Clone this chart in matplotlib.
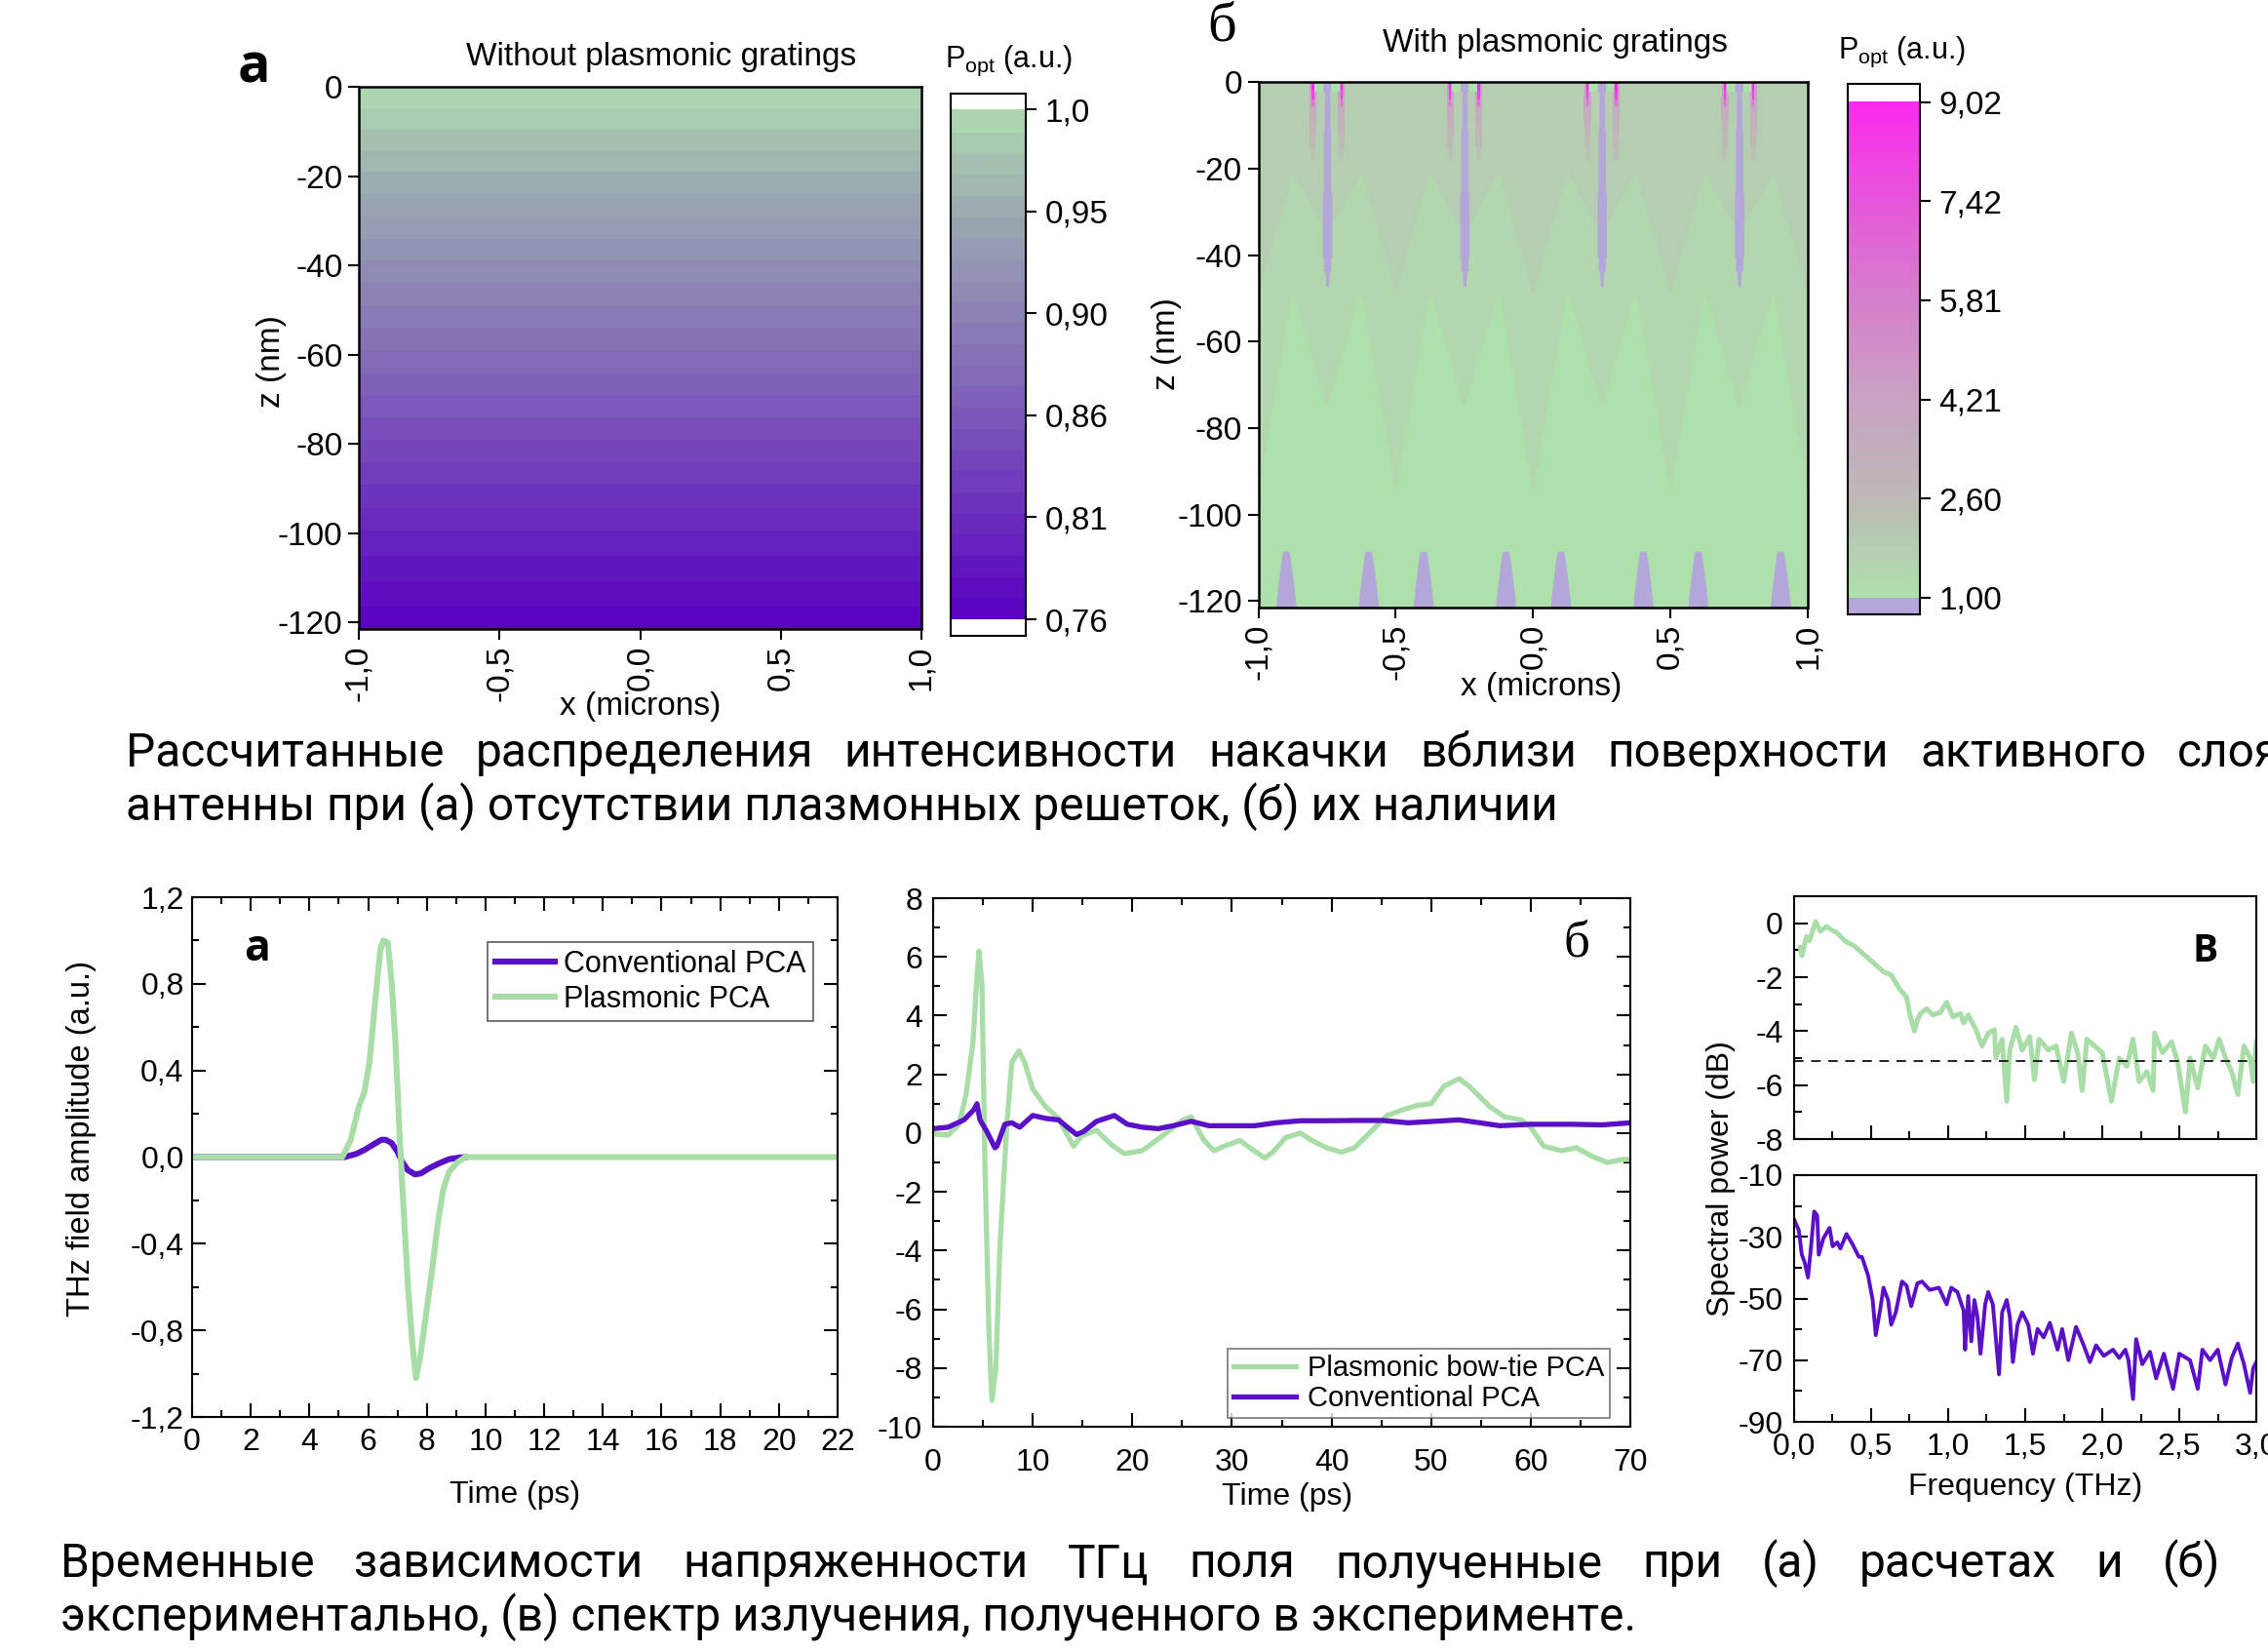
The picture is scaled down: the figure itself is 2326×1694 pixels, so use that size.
import numpy as np
import matplotlib
matplotlib.use('Agg')
import matplotlib.pyplot as plt
from matplotlib.colors import LinearSegmentedColormap, ListedColormap, BoundaryNorm
from matplotlib.ticker import FixedLocator, MultipleLocator
from matplotlib.lines import Line2D

plt.rcParams['font.family'] = ['Liberation Sans', 'DejaVu Sans']
plt.rcParams['axes.unicode_minus'] = False
plt.rcParams['mathtext.fontset'] = 'custom'
plt.rcParams['mathtext.rm'] = 'Liberation Sans'
plt.rcParams['mathtext.it'] = 'Liberation Sans:italic'

# ------------------------------------------------------------------ data
# (a) top: optical power vs depth, no gratings
za_depth = [0, -20, -40, -60, -80, -100, -121.5]
pa_power = [1.0, 0.958, 0.918, 0.878, 0.838, 0.799, 0.761]
cbar_a_ticks = [0.76, 0.808, 0.856, 0.904, 0.952, 1.0]
cbar_a_labels = ['0,76', '0,81', '0,86', '0,90', '0,95', '1,0']

# (b) top: optical power with gratings (coarse contour grid)
xb_nodes = [-1.0, -0.875, -0.75, -0.625, -0.5, -0.375, -0.25, -0.125, 0.0,
            0.125, 0.25, 0.375, 0.5, 0.625, 0.75, 0.875, 1.0]
zb_nodes = [0, -20, -48, -93, -121.5]
pb_grid = [
    [2.0] * 17,
    [2.0, 1.81, 2.0, 1.81, 2.0, 1.81, 2.0, 1.81, 2.0, 1.81, 2.0, 1.81, 2.0, 1.81, 2.0, 1.81, 2.0],
    [1.81, 1.40, 1.63, 1.40, 1.81, 1.40, 1.63, 1.40, 1.81, 1.40, 1.63, 1.40, 1.81, 1.40, 1.63, 1.40, 1.81],
    [1.41, 1.10, 1.25, 1.10, 1.41, 1.10, 1.25, 1.10, 1.41, 1.10, 1.25, 1.10, 1.41, 1.10, 1.25, 1.10, 1.41],
    [1.20, 1.05, 1.25, 1.05, 1.20, 1.05, 1.25, 1.05, 1.20, 1.05, 1.25, 1.05, 1.20, 1.05, 1.25, 1.05, 1.20],
]
grating_x = [-0.75, -0.25, 0.25, 0.75]
line_z = [0, -2.2, -2.2, -4, -4, -11, -11, -25.5, -25.5, -40.5, -40.5, -43.7, -43.7, -47.2]
line_hw = [0.015, 0.015, 0.008, 0.008, 0.010, 0.010, 0.013, 0.013, 0.017, 0.017, 0.013, 0.013, 0.008, 0.005]
hot_offset = 0.052
glow_z = [0, -3, -6, -9, -12, -15, -18]
glow_val = [4.6, 4.0, 3.4, 3.0, 2.6, 2.3]
glow_hw = [0.012, 0.013, 0.013, 0.012, 0.011, 0.009]
hot_z = [0, -2, -4, -5.5]
hot_val = [9.0, 8.0, 6.0]
bump_x = [-0.9, -0.6, -0.4, -0.1, 0.1, 0.4, 0.6, 0.9]
bump_z = [-121.5, -117, -114, -111, -108.5]
bump_hw = [0.037, 0.030, 0.024, 0.018, 0.012]
cbar_b_ticks = [1.0, 2.604, 4.208, 5.812, 7.416, 9.02]
cbar_b_labels = ['1,00', '2,60', '4,21', '5,81', '7,42', '9,02']

# bottom (a): calculated THz pulses
t_plas_a = [0, 5.12, 5.4, 5.68, 5.87, 6.05, 6.24, 6.42, 6.52, 6.67, 6.8, 6.93, 7.08, 7.2,
            7.36, 7.5, 7.63, 7.78, 8.0, 8.19, 8.38, 8.56, 8.75, 9.03, 9.31, 22]
e_plas_a = [0, 0, 0.077, 0.23, 0.30, 0.44, 0.72, 0.96, 1.0, 0.99, 0.81, 0.53, 0.08, -0.22,
            -0.6, -0.85, -1.02, -0.92, -0.70, -0.51, -0.3, -0.15, -0.07, -0.026, 0, 0]
t_conv_a = [0, 5.2, 5.6, 5.9, 6.2, 6.45, 6.6, 6.8, 7.0, 7.15, 7.35, 7.6, 7.8, 8.1, 8.4, 8.75, 9.1, 9.4]
e_conv_a = [0, 0, 0.015, 0.035, 0.06, 0.08, 0.08, 0.065, 0.025, -0.02, -0.06, -0.08, -0.075,
            -0.05, -0.03, -0.01, -0.002, 0]

# bottom (б): measured THz pulses
t_plas_b = [0, 1.5, 2.6, 3.3, 4.0, 4.4, 4.6, 4.9, 5.2, 5.6, 5.9, 6.3, 6.7, 7.4, 7.9, 8.6, 9.2,
            10.0, 11.3, 12.6, 13.3, 14.1, 14.9, 16.4, 17.9, 19.2, 21.0, 23.0, 25.1, 25.9, 27.2,
            28.2, 29.2, 30.8, 31.8, 33.3, 34.1, 35.4, 36.9, 38.0, 39.5, 41.0, 42.3, 44.1, 45.6,
            47.2, 48.7, 50.0, 51.3, 52.8, 53.8, 55.9, 57.4, 59.0, 60.0, 61.3, 63.1, 64.6, 66.2,
            67.7, 69.2, 70.0]
e_plas_b = [-0.03, -0.07, 0.3, 1.3, 3.1, 5.3, 6.2, 5.1, -1.1, -6.7, -9.1, -8.0, -3.9, 0.3, 2.4,
            2.8, 2.4, 1.5, 0.9, 0.5, 0.05, -0.45, -0.1, 0.1, -0.4, -0.7, -0.6, -0.1, 0.45, 0.55,
            -0.25, -0.6, -0.45, -0.25, -0.5, -0.85, -0.65, -0.15, 0.0, -0.25, -0.5, -0.65, -0.5,
            0.1, 0.6, 0.8, 0.95, 1.0, 1.6, 1.85, 1.6, 0.9, 0.55, 0.45, 0.2, -0.45, -0.6, -0.5,
            -0.8, -1.0, -0.9, -0.9]
t_conv_b = [0, 1.5, 3.1, 4.1, 4.4, 4.7, 5.4, 6.2, 6.4, 7.2, 7.9, 8.7, 10.0, 11.3, 12.6, 13.3,
            14.4, 15.1, 16.4, 18.2, 19.5, 21.0, 22.6, 24.1, 25.9, 27.7, 29.8, 32.3, 34.4, 36.9,
            39.5, 42.6, 45.1, 47.7, 50.3, 52.8, 54.9, 56.9, 60.0, 64.1, 67.2, 70.0]
e_conv_b = [0.15, 0.2, 0.45, 0.8, 1.0, 0.45, 0.05, -0.5, -0.45, 0.3, 0.35, 0.2, 0.6, 0.5, 0.45,
            0.25, -0.05, 0.05, 0.4, 0.6, 0.3, 0.2, 0.15, 0.25, 0.4, 0.25, 0.25, 0.25, 0.35, 0.42,
            0.42, 0.43, 0.43, 0.35, 0.4, 0.45, 0.35, 0.25, 0.3, 0.3, 0.28, 0.35]

# bottom (в): spectra
f_plas = [0.04, 0.05, 0.08, 0.10, 0.14, 0.17, 0.21, 0.24, 0.28, 0.33, 0.39, 0.45, 0.51, 0.58,
          0.63, 0.68, 0.73, 0.75, 0.78, 0.80, 0.82, 0.86, 0.90, 0.95, 0.99, 1.03, 1.08, 1.10,
          1.13, 1.18, 1.22, 1.26, 1.30, 1.31, 1.35, 1.38, 1.40, 1.44, 1.48, 1.53, 1.56, 1.59,
          1.65, 1.70, 1.75, 1.80, 1.84, 1.87, 1.90, 1.95, 2.00, 2.06, 2.11, 2.16, 2.20, 2.24,
          2.29, 2.33, 2.34, 2.39, 2.45, 2.49, 2.54, 2.57, 2.62, 2.67, 2.72, 2.76, 2.80, 2.84,
          2.88, 2.92, 2.96, 2.98, 3.00]
s_plas = [-0.9, -1.2, -0.5, -0.65, 0.06, -0.3, -0.12, -0.24, -0.36, -0.66, -0.84, -1.14, -1.44,
          -1.8, -1.92, -2.4, -2.75, -3.35, -4.0, -3.6, -3.35, -3.17, -3.4, -3.3, -2.93, -3.47,
          -3.35, -3.7, -3.4, -3.95, -4.55, -4.07, -3.95, -5.0, -4.3, -6.6, -4.7, -3.86, -4.7,
          -4.2, -5.8, -4.3, -4.7, -4.55, -5.87, -4.07, -4.8, -6.2, -4.3, -4.55, -4.8, -6.6, -5.0,
          -5.3, -4.3, -5.87, -5.5, -6.2, -4.07, -4.8, -4.4, -5.15, -7.0, -5.0, -6.1, -4.55, -5.0,
          -4.3, -5.0, -5.5, -6.35, -4.55, -5.0, -5.87, -4.4]
noise_floor_db = -5.1
f_conv = [0.0, 0.03, 0.05, 0.07, 0.09, 0.11, 0.13, 0.15, 0.16, 0.19, 0.23, 0.25, 0.28, 0.30,
          0.34, 0.38, 0.42, 0.44, 0.48, 0.51, 0.53, 0.56, 0.58, 0.61, 0.63, 0.66, 0.70, 0.73,
          0.76, 0.80, 0.83, 0.88, 0.94, 0.99, 1.02, 1.06, 1.10, 1.11, 1.13, 1.15, 1.17, 1.19,
          1.21, 1.24, 1.26, 1.29, 1.33, 1.35, 1.38, 1.40, 1.42, 1.45, 1.48, 1.52, 1.55, 1.58,
          1.62, 1.66, 1.71, 1.74, 1.78, 1.83, 1.88, 1.92, 1.96, 2.01, 2.07, 2.11, 2.15, 2.17,
          2.20, 2.22, 2.26, 2.31, 2.35, 2.40, 2.46, 2.50, 2.57, 2.62, 2.65, 2.70, 2.75, 2.80,
          2.84, 2.88, 2.92, 2.96, 2.98, 3.00]
s_conv = [-24.4, -27.8, -35.8, -38.5, -43.2, -33.1, -21.8, -23.1, -35.8, -30.5, -27.1, -33.1,
          -31.8, -33.8, -29.1, -32.5, -36.5, -36.5, -42.5, -50.5, -61.9, -53.2, -46.5, -50.5,
          -58.5, -54.5, -44.5, -45.8, -52.5, -45.1, -44.5, -47.2, -46.5, -51.9, -46.5, -47.9,
          -53.9, -66.6, -49.2, -63.9, -50.5, -55.9, -67.9, -51.9, -47.9, -51.9, -74.6, -54.5,
          -50.5, -55.9, -70.6, -58.5, -54.5, -58.5, -67.9, -59.9, -62.6, -57.9, -66.6, -59.9,
          -70.0, -59.2, -65.2, -70.6, -65.2, -68.6, -66.6, -69.3, -66.6, -70.0, -82.6, -63.2,
          -71.3, -67.3, -75.9, -67.9, -79.3, -67.9, -70.0, -79.3, -66.6, -70.0, -66.6, -77.9,
          -69.3, -64.6, -71.3, -80.6, -72.6, -70.6]

caption1_line1 = ["Рассчитанные", "распределения", "интенсивности", "накачки", "вблизи",
                  "поверхности", "активного", "слоя"]
caption1_line2 = "антенны при (а) отсутствии плазмонных решеток, (б) их наличии"
caption2_line1 = ["Временные", "зависимости", "напряженности", "ТГц", "поля", "полученные",
                  "при", "(а)", "расчетах", "и", "(б)"]
caption2_line2 = "экспериментально, (в) спектр излучения, полученного в эксперименте."

# ------------------------------------------------------------------ style
GREEN = '#a9dda8'
PURPLE = '#5a10c6'
LAV = '#b3a6d8'
W, H = 2326, 1694
fig = plt.figure(figsize=(W / 100, H / 100), dpi=100)


def box(l, t, r, b):
    return [l / W, 1 - b / H, (r - l) / W, (b - t) / H]


def T(x, y, s, **kw):
    return fig.text(x / W, 1 - y / H, s, **kw)


def comma(v, nd):
    return (f'{v:.{nd}f}').replace('.', ',')


TOP_FS = 24
BOT_FS = 23

# ------------------------------------------------------------------ top (a)
axA = fig.add_axes(box(368, 89, 945, 645))
cmap_a = LinearSegmentedColormap.from_list(
    'a', [(0, '#5a05c0'), (0.417, '#7f62b8'), (0.79, '#9cacb0'), (1, '#b0e0b0')])
lev_a = np.linspace(0.76, 1.0, 25)
cols_a = [cmap_a((v - 0.76) / 0.24) for v in lev_a[:-1]]
Pa = np.tile(np.array(pa_power)[:, None], (1, 2))
axA.contourf([-1.0, 1.0], za_depth, Pa, levels=lev_a, colors=cols_a, extend='both')
axA.set_xlim(-1, 1)
axA.set_ylim(-121.5, 0)

# ------------------------------------------------------------------ top (b)
axB = fig.add_axes(box(1290.6, 84.5, 1854, 623))
cb_colors = ['#aee0ac', '#bdbab6', '#c9a2c4', '#d680cc', '#e657da', '#fb2bee']
cmap_b = LinearSegmentedColormap.from_list('b', list(zip(np.linspace(0, 1, 6), cb_colors)))
norm_b = plt.Normalize(1.0, 9.02)
lev_b = np.linspace(1.0, 9.02, 21)
cols_b = [cmap_b(norm_b(v)) for v in lev_b[:-1]]
axB.contourf(xb_nodes, zb_nodes, pb_grid, levels=lev_b, colors=cols_b)
for gx in grating_x:
    lz = np.array(line_z)
    hw = np.array(line_hw)
    axB.fill_betweenx(lz, gx - hw, gx + hw, color=LAV, lw=0, zorder=3)
    for s in (-1, 1):
        xm = gx + s * hot_offset
        for i in range(len(glow_val)):
            axB.fill_betweenx([glow_z[i], glow_z[i + 1]], xm - glow_hw[i], xm + glow_hw[i],
                              color=cmap_b(norm_b(glow_val[i])), lw=0, zorder=2)
        for i in range(len(hot_val)):
            axB.fill_betweenx([hot_z[i], hot_z[i + 1]], xm - 0.004, xm + 0.004,
                              color=cmap_b(norm_b(hot_val[i])), lw=0, zorder=4)
        axB.fill_betweenx([0, -2.2], gx + s * 0.015, gx + s * 0.045, color=cols_b[0], lw=0, zorder=3)
for bx in bump_x:
    axB.fill_betweenx(bump_z, bx - np.array(bump_hw), bx + np.array(bump_hw), color=LAV, lw=0, zorder=3)
axB.set_xlim(-1, 1)
axB.set_ylim(-121.5, 0)

for ax in (axA, axB):
    ax.set_yticks([0, -20, -40, -60, -80, -100, -120])
    ax.set_yticklabels(['0', '-20', '-40', '-60', '-80', '-100', '-120'])
    ax.set_xticks([-1, -0.5, 0, 0.5, 1])
    ax.set_xticklabels(['-1,0', '-0,5', '0,0', '0,5', '1,0'], rotation=90)
    ax.tick_params(direction='out', length=8, width=1.5, labelsize=TOP_FS, pad=4)
    for sp in ax.spines.values():
        sp.set_linewidth(1.8)
        sp.set_zorder(10)

# colorbars
caxA = fig.add_axes(box(975, 96, 1052, 652))
grad = np.linspace(0.76, 1.0, 241)[:, None]
caxA.imshow(grad, extent=[0, 1, 0.76, 1.0], origin='lower', aspect='auto',
            cmap=ListedColormap(cols_a), norm=BoundaryNorm(lev_a, len(cols_a)))
caxA.set_ylim(0.76 - 0.0078, 1.0 + 0.0075)
caxA.set_xlim(0, 1)

caxB = fig.add_axes(box(1895, 86, 1969, 630))
gradb = np.linspace(1.0, 9.02, 400)[:, None]
caxB.imshow(gradb, extent=[0, 1, 1.0, 9.02], origin='lower', aspect='auto', cmap=cmap_b, norm=norm_b)
caxB.axhspan(1.0 - 0.27, 1.0, color=LAV, lw=0)
caxB.set_ylim(1.0 - 0.27, 9.02 + 0.295)
caxB.set_xlim(0, 1)

for cax, tk, lb in ((caxA, cbar_a_ticks, cbar_a_labels), (caxB, cbar_b_ticks, cbar_b_labels)):
    cax.set_xticks([])
    cax.yaxis.tick_right()
    cax.set_yticks(tk)
    cax.set_yticklabels(lb)
    cax.tick_params(direction='out', length=8, width=1.5, labelsize=TOP_FS, pad=6)
    for sp in cax.spines.values():
        sp.set_linewidth(1.5)

T(678, 59, 'Without plasmonic gratings', fontsize=TOP_FS, ha='center', va='center')
T(1595, 44, 'With plasmonic gratings', fontsize=TOP_FS, ha='center', va='center')
T(1035, 62, r'P$_{\rm opt}$ (a.u.)', fontsize=22, ha='center', va='center')
T(1951, 53, r'P$_{\rm opt}$ (a.u.)', fontsize=22, ha='center', va='center')
T(657, 724, 'x (microns)', fontsize=TOP_FS, ha='center', va='center')
T(1581, 705, 'x (microns)', fontsize=TOP_FS, ha='center', va='center')
T(279, 371, 'z (nm)', fontsize=TOP_FS, ha='center', va='center', rotation=90)
T(1196, 353, 'z (nm)', fontsize=TOP_FS, ha='center', va='center', rotation=90)
T(260, 70, 'а', fontsize=40, ha='center', va='center', fontweight='bold', family='Open Sans')
T(1253, 28, 'б', fontsize=42, ha='center', va='center', family='Liberation Serif')

# ------------------------------------------------------------------ bottom (a)
ax1 = fig.add_axes(box(197, 920, 859, 1453))
ax1.plot(t_conv_a, e_conv_a, color=PURPLE, lw=4.4, solid_capstyle='butt')
ax1.plot(t_plas_a, e_plas_a, color=GREEN, lw=4.4, solid_capstyle='butt')
ax1.set_xlim(0, 22)
ax1.set_ylim(-1.2, 1.2)
ax1.set_xticks(np.arange(0, 23, 2))
ax1.set_xticklabels([str(v) for v in range(0, 23, 2)])
ax1.xaxis.set_minor_locator(MultipleLocator(1))
yt = [-1.2, -0.8, -0.4, 0.0, 0.4, 0.8, 1.2]
ax1.set_yticks(yt)
ax1.set_yticklabels([comma(v, 1) for v in yt])
ax1.yaxis.set_minor_locator(MultipleLocator(0.2))
T(528, 1533, 'Time (ps)', fontsize=BOT_FS, ha='center', va='center')
T(84, 1167, 'THz field amplitude (a.u.)', fontsize=23.5, ha='center', va='center', rotation=90)
leg1 = ax1.legend([Line2D([], [], color=PURPLE, lw=4.4), Line2D([], [], color=GREEN, lw=4.4)],
                  ['Conventional PCA', 'Plasmonic PCA'], loc='upper right',
                  bbox_to_anchor=(834 / W, 1 - 966 / H), bbox_transform=fig.transFigure,
                  fontsize=22, frameon=True, fancybox=False, handlelength=2.0,
                  handletextpad=0.3, borderpad=0.25, labelspacing=0.2, borderaxespad=0)
leg1.get_frame().set_edgecolor('#333333')
leg1.get_frame().set_linewidth(1.2)
T(264, 973, 'а', fontsize=32, ha='center', va='center', fontweight='bold', family='Open Sans')

# ------------------------------------------------------------------ bottom (б)
ax2 = fig.add_axes(box(957, 921, 1672, 1463))
ax2.plot(t_plas_b, e_plas_b, color=GREEN, lw=3.8)
ax2.plot(t_conv_b, e_conv_b, color=PURPLE, lw=3.8)
ax2.set_xlim(0, 70)
ax2.set_ylim(-10, 8)
ax2.set_xticks(np.arange(0, 71, 10))
ax2.set_xticklabels([str(v) for v in range(0, 71, 10)])
ax2.xaxis.set_minor_locator(MultipleLocator(5))
ax2.set_yticks(np.arange(-10, 9, 2))
ax2.set_yticklabels([str(v) for v in range(-10, 9, 2)])
ax2.yaxis.set_minor_locator(MultipleLocator(1))
T(1320, 1535, 'Time (ps)', fontsize=BOT_FS, ha='center', va='center')
leg2 = ax2.legend([Line2D([], [], color=GREEN, lw=3.8), Line2D([], [], color=PURPLE, lw=3.8)],
                  ['Plasmonic bow-tie PCA', 'Conventional PCA'], loc='lower right',
                  bbox_to_anchor=(1651 / W, 1 - 1454 / H), bbox_transform=fig.transFigure,
                  fontsize=21, frameon=True, fancybox=False, handlelength=2.2,
                  handletextpad=0.4, borderpad=0.2, labelspacing=0.1, borderaxespad=0)
leg2.get_frame().set_edgecolor('#555555')
leg2.get_frame().set_linewidth(1.2)
T(1617, 967, 'б', fontsize=38, ha='center', va='center', family='Liberation Serif')

for ax in (ax1, ax2):
    ax.tick_params(which='both', direction='in', top=True, right=True, width=1.5, labelsize=BOT_FS)
    ax.tick_params(which='major', length=10)
    ax.tick_params(which='minor', length=5)
    for sp in ax.spines.values():
        sp.set_linewidth(1.5)
ax1.tick_params(axis='x', which='major', pad=8)
ax1.tick_params(axis='y', which='major', pad=6)
ax2.tick_params(axis='x', which='major', pad=16)
ax2.tick_params(axis='y', which='major', pad=8)

# ------------------------------------------------------------------ bottom (в)
axS1 = fig.add_axes(box(1840, 919, 2314, 1168))
axS2 = fig.add_axes(box(1840, 1205, 2314, 1458))
axS1.plot(f_plas, s_plas, color=GREEN, lw=3.6)
axS1.axhline(noise_floor_db, color='#222222', lw=1.4, ls=(0, (5, 4)))
axS1.set_ylim(-8, 1)
axS1.set_yticks([0, -2, -4, -6, -8])
axS1.set_yticklabels(['0', '-2', '-4', '-6', '-8'])
axS1.yaxis.set_minor_locator(FixedLocator([-1, -3, -5, -7]))
axS2.plot(f_conv, s_conv, color=PURPLE, lw=2.8)
axS2.set_ylim(-90, -10)
axS2.set_yticks([-10, -30, -50, -70, -90])
axS2.set_yticklabels(['-10', '-30', '-50', '-70', '-90'])
axS2.yaxis.set_minor_locator(FixedLocator([-20, -40, -60, -80]))
fx = [0, 0.5, 1.0, 1.5, 2.0, 2.5, 3.0]
for ax in (axS1, axS2):
    ax.set_xlim(0, 3)
    ax.set_xticks(fx)
    ax.xaxis.set_minor_locator(MultipleLocator(0.25))
    ax.tick_params(which='both', direction='in', width=1.5, labelsize=BOT_FS)
    ax.tick_params(which='major', length=10, pad=8)
    ax.tick_params(which='minor', length=6)
    for sp in ax.spines.values():
        sp.set_linewidth(1.5)
axS1.set_xticklabels([])
axS2.set_xticklabels([comma(v, 1) for v in fx])
T(2077, 1525, 'Frequency (THz)', fontsize=BOT_FS, ha='center', va='center')
T(1765, 1209, 'Spectral power (dB)', fontsize=BOT_FS, ha='center', va='center', rotation=90)
T(2262, 975, 'В', fontsize=28, ha='center', va='center', fontweight='bold', family='Open Sans')

# ------------------------------------------------------------------ captions
CAP = dict(fontsize=34.5, family='Roboto', va='baseline', ha='left')
renderer = fig.canvas.get_renderer()


def justify(words, x_left, x_right_anchor, y, right_is_start=False):
    """Place words with equal gaps. If right_is_start, x_right_anchor is the start of the last word."""
    arts = [T(0, y, w, **CAP) for w in words]
    widths = [a.get_window_extent(renderer).width for a in arts]
    if right_is_start:
        total = x_right_anchor - x_left - sum(widths[:-1])
    else:
        total = x_right_anchor - x_left - sum(widths)
    gap = total / (len(words) - 1)
    x = x_left
    for a, wdt in zip(arts, widths):
        a.set_x(x / W)
        x += wdt + gap


justify(caption1_line1, 129, 2233, 786, right_is_start=True)
T(129, 841, caption1_line2, **CAP)
justify(caption2_line1, 62, 2277, 1617)
T(62, 1672, caption2_line2, **CAP)

fig.savefig('out.png', dpi=100)
